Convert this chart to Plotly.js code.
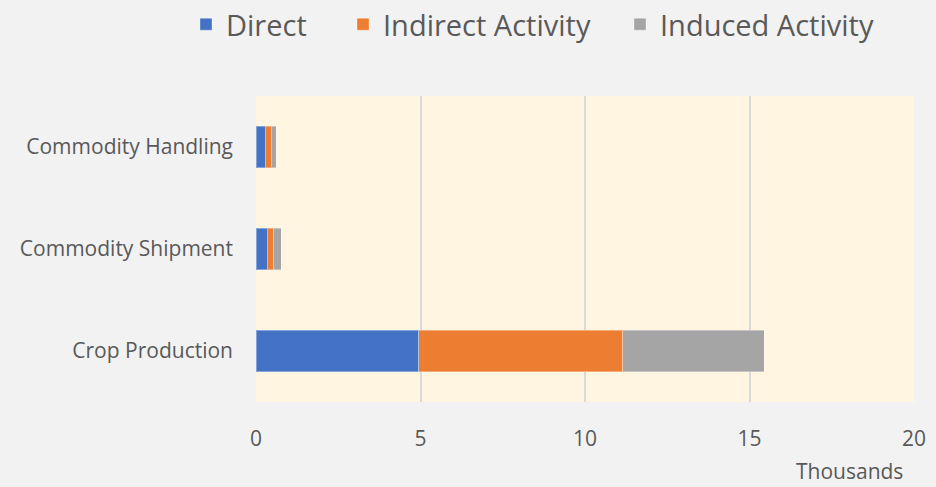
<!DOCTYPE html>
<html>
<head>
<meta charset="utf-8">
<script src="https://cdn.plot.ly/plotly-3.0.1.min.js"></script>
<style>html,body{margin:0;padding:0;background:#f2f2f2;}#chart{width:936px;height:487px;}</style>
</head>
<body>
<div id="chart"></div>
<script>
const categories = ["Crop Production", "Commodity Shipment", "Commodity Handling"];
const direct = [4.95, 0.34, 0.30];
const indirect = [6.2, 0.20, 0.16];
const induced = [4.3, 0.23, 0.15];
const seriesNames = ["Direct", "Indirect Activity", "Induced Activity"];
const colors = ["#4472c4", "#ed7d31", "#a5a5a5"];
const xTicks = [0, 5, 10, 15, 20];

const legendIds = ["legend", "legend2", "legend3"];
const seriesVals = [direct, indirect, induced];
const traces = seriesVals.map((vals, i) => ({
  type: "bar",
  orientation: "h",
  name: seriesNames[i],
  legend: legendIds[i],
  y: categories,
  x: vals,
  marker: {color: colors[i], line: {color: "rgba(255,255,255,0.35)", width: 1}},
  hoverinfo: "x+name"
}));

const font = "'Open Sans', 'Noto Sans', sans-serif";
function legendAt(px) {
  return {
    orientation: "h",
    xref: "container", yref: "container",
    x: px / 936, xanchor: "left",
    y: 0.95, yanchor: "middle",
    font: {size: 29, color: "#595959"},
    bgcolor: "rgba(0,0,0,0)",
    itemclick: false
  };
}
const layout = {
  width: 936,
  height: 487,
  barmode: "stack",
  bargap: 0.59,
  paper_bgcolor: "#f2f2f2",
  plot_bgcolor: "#fff5e1",
  margin: {l: 256, r: 22, t: 96, b: 85, autoexpand: false},
  font: {family: font, color: "#595959", size: 21},
  showlegend: true,
  legend: legendAt(186),
  legend2: legendAt(343),
  legend3: legendAt(620),
  xaxis: {
    range: [0, 20],
    tickvals: xTicks,
    ticktext: xTicks.map(String),
    showgrid: true,
    gridcolor: "#d9d9d9",
    gridwidth: 2,
    zeroline: false,
    showline: false,
    ticks: "",
    ticklabelstandoff: 22,
    tickfont: {size: 21, color: "#595959"},
    fixedrange: true
  },
  yaxis: {
    categoryorder: "array",
    categoryarray: categories,
    showgrid: false,
    zeroline: false,
    showline: false,
    ticks: "",
    ticklabelstandoff: 22,
    tickfont: {size: 21, color: "#595959"},
    fixedrange: true
  },
  annotations: [{
    text: "Thousands",
    xref: "paper", yref: "paper",
    x: 0.987, y: -0.225,
    xanchor: "right", yanchor: "middle",
    showarrow: false,
    font: {size: 21, color: "#595959"}
  }]
};

Plotly.newPlot("chart", traces, layout, {displayModeBar: false, staticPlot: true});
</script>
</body>
</html>
